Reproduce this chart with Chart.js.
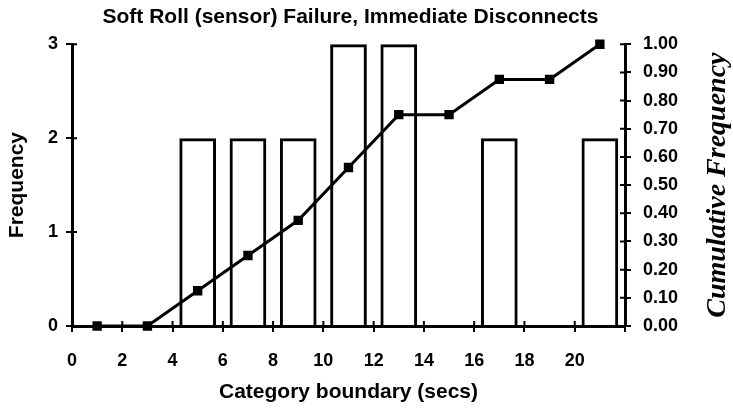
<!DOCTYPE html>
<html>
<head>
<meta charset="utf-8">
<script src="https://cdn.jsdelivr.net/npm/chart.js@4.4.1/dist/chart.umd.min.js"></script>
<style>
  html, body { margin: 0; padding: 0; background: #fff; }
  #wrap { width: 733px; height: 408px; }
</style>
</head>
<body>
<div id="wrap"><canvas id="chart" width="733" height="408"></canvas></div>
<script>
// category midpoints (secs) and counts
const binCentres = [5, 7, 9, 11, 13, 17, 21];
const binCounts = [2, 2, 2, 3, 3, 2, 2];

// cumulative frequency points
const cumX = [1, 3, 5, 7, 9, 11, 13, 15, 17, 19, 21];
const cumY = [0, 0, 0.125, 0.25, 0.375, 0.5625, 0.75, 0.75, 0.875, 0.875, 1.0];

const xTicks = [0, 2, 4, 6, 8, 10, 12, 14, 16, 18, 20];

const black = '#000';
const sans = 'Liberation Sans, Arial, sans-serif';
const serif = 'Liberation Serif, Times New Roman, serif';

// right axis title reads bottom-to-top, so draw it ourselves
const rightTitle = {
  id: 'rightTitle',
  afterDraw(chart) {
    const s = chart.scales.y1;
    const ctx = chart.ctx;
    ctx.save();
    ctx.translate(chart.width - 15, (s.top + s.bottom) / 2);
    ctx.rotate(-Math.PI / 2);
    ctx.fillStyle = black;
    ctx.font = 'italic bold 28px ' + serif;
    ctx.textAlign = 'center';
    ctx.textBaseline = 'middle';
    ctx.fillText('Cumulative Frequency', 0, 0);
    ctx.restore();
  }
};

// the original tick marks cross the axis lines; add the inner half
const innerTicks = {
  id: 'innerTicks',
  afterDatasetsDraw(chart) {
    const ctx = chart.ctx;
    const len = 5;
    ctx.save();
    ctx.strokeStyle = black;
    ctx.lineWidth = 2;
    ctx.beginPath();
    const x = chart.scales.x;
    x.ticks.forEach((t, i) => {
      const px = x.getPixelForTick(i);
      ctx.moveTo(px, x.top);
      ctx.lineTo(px, x.top - len);
    });
    const y = chart.scales.y;
    y.ticks.forEach((t, i) => {
      const py = y.getPixelForTick(i);
      ctx.moveTo(y.right, py);
      ctx.lineTo(y.right + len, py);
    });
    const y1 = chart.scales.y1;
    y1.ticks.forEach((t, i) => {
      const py = y1.getPixelForTick(i);
      ctx.moveTo(y1.left, py);
      ctx.lineTo(y1.left - len, py);
    });
    ctx.stroke();
    ctx.restore();
  }
};

new Chart(document.getElementById('chart'), {
  data: {
    datasets: [
      {
        type: 'line',
        label: 'Cumulative',
        data: cumX.map((x, i) => ({ x: x, y: cumY[i] })),
        yAxisID: 'y1',
        borderColor: black,
        backgroundColor: black,
        borderWidth: 3,
        pointStyle: 'rect',
        pointRadius: 4.5,
        tension: 0,
        clip: false,
        order: 0
      },
      {
        type: 'bar',
        label: 'Frequency',
        data: binCentres.map((x, i) => ({ x: x, y: binCounts[i] })),
        yAxisID: 'y',
        backgroundColor: 'rgba(255,255,255,0)',
        borderColor: black,
        borderWidth: 3,
        categoryPercentage: 1,
        barPercentage: 0.73,
        clip: false,
        order: 1
      }
    ]
  },
  plugins: [rightTitle, innerTicks],
  options: {
    responsive: false,
    animation: false,
    layout: { padding: { top: 0, left: 0, bottom: 0, right: 32 } },
    plugins: {
      legend: { display: false },
      tooltip: { enabled: false },
      title: {
        display: true,
        text: 'Soft Roll (sensor) Failure, Immediate Disconnects',
        color: black,
        font: { family: sans, size: 21, weight: 'bold' },
        padding: { top: 5, bottom: 14 }
      }
    },
    scales: {
      x: {
        type: 'linear',
        min: 0,
        max: 22,
        offset: false,
        afterBuildTicks: (axis) => {
          axis.ticks = xTicks.concat([22]).map(v => ({ value: v }));
        },
        afterFit: (s) => { s.height = 82; },
        ticks: {
          color: black,
          font: { family: sans, size: 18, weight: 'bold' },
          maxRotation: 0,
          autoSkip: false,
          padding: 18,
          callback: (v) => (xTicks.includes(v) ? String(v) : '')
        },
        grid: { drawOnChartArea: false, offset: false, color: black, lineWidth: 2, tickLength: 6 },
        border: { color: black, width: 3 },
        title: {
          display: true,
          text: 'Category boundary (secs)',
          color: black,
          font: { family: sans, size: 21, weight: 'bold' },
          padding: { top: 0, bottom: 3 }
        }
      },
      y: {
        position: 'left',
        min: 0,
        max: 3,
        afterFit: (s) => { s.width = 72; },
        ticks: {
          stepSize: 1,
          color: black,
          font: { family: sans, size: 18, weight: 'bold' },
          padding: 8
        },
        grid: { drawOnChartArea: false, color: black, lineWidth: 2, tickLength: 6 },
        border: { color: black, width: 3 },
        title: {
          display: true,
          text: 'Frequency',
          color: black,
          font: { family: sans, size: 21, weight: 'bold' },
          padding: { top: 5, bottom: 0 }
        }
      },
      y1: {
        position: 'right',
        min: 0,
        max: 1,
        afterFit: (s) => { s.width = 76; },
        ticks: {
          stepSize: 0.1,
          color: black,
          font: { family: sans, size: 18, weight: 'bold' },
          padding: 12,
          callback: (v) => Number(v).toFixed(2)
        },
        grid: { drawOnChartArea: false, color: black, lineWidth: 2, tickLength: 6 },
        border: { color: black, width: 3 }
      }
    }
  }
});
</script>
</body>
</html>
